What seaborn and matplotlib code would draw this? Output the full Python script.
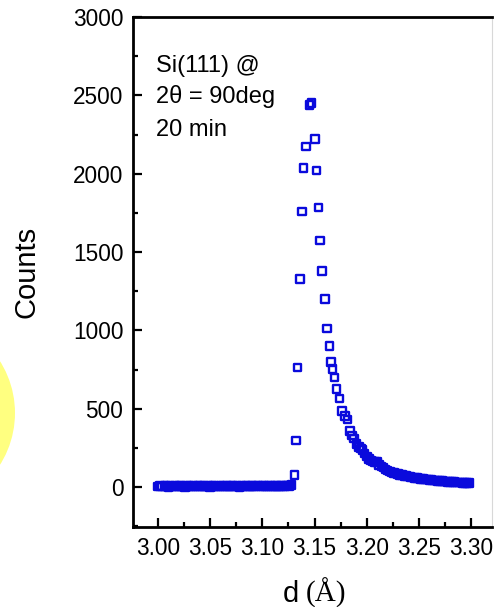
import matplotlib
matplotlib.use("Agg")
import matplotlib.pyplot as plt
from matplotlib.patches import Circle
from matplotlib.ticker import MultipleLocator
import seaborn as sns
import pandas as pd

# Flat background before the Si(111) reflection
d_base = [3.000, 3.002, 3.004, 3.006, 3.008, 3.010, 3.012, 3.014, 3.016, 3.018,
          3.020, 3.022, 3.024, 3.026, 3.028, 3.030, 3.032, 3.034, 3.036, 3.038,
          3.040, 3.042, 3.044, 3.046, 3.048, 3.050, 3.052, 3.054, 3.056, 3.058,
          3.060, 3.062, 3.064, 3.066, 3.068, 3.070, 3.072, 3.074, 3.076, 3.078,
          3.080, 3.082, 3.084, 3.086, 3.088, 3.090, 3.092, 3.094, 3.096, 3.098,
          3.100, 3.102, 3.104, 3.106, 3.108, 3.110, 3.112, 3.114, 3.116, 3.118,
          3.120, 3.122, 3.124, 3.126]
counts_base = [4, 6, 3, 5, 7, 2, 5, 4, 6, 3,
               5, 8, 4, 2, 6, 5, 3, 7, 4, 5,
               6, 3, 5, 4, 8, 2, 5, 6, 4, 3,
               7, 5, 4, 6, 3, 5, 8, 4, 5, 2,
               6, 4, 7, 5, 3, 6, 4, 5, 9, 3,
               5, 6, 4, 7, 5, 3, 6, 8, 4, 6,
               5, 7, 9, 6]

# Leading edge and top of the peak
d_rise = [3.1280, 3.1307, 3.1323, 3.1338, 3.1361, 3.1377, 3.1393, 3.1419, 3.1450, 3.1472]
counts_rise = [13, 77, 296, 762, 1328, 1758, 2035, 2173, 2439, 2450]

# Falling side and long tail
d_tail = [3.1505, 3.1520, 3.1536, 3.1553, 3.1571, 3.1600, 3.1620, 3.1642, 3.1658, 3.1673,
          3.1690, 3.1711, 3.1737, 3.1763, 3.1790, 3.1816, 3.1839, 3.1860, 3.1880, 3.1903,
          3.1925, 3.1945, 3.1960, 3.1980, 3.2000, 3.2020, 3.2040, 3.2060, 3.2080, 3.2100,
          3.2120, 3.2140, 3.2160, 3.2180, 3.2200, 3.2220, 3.2240, 3.2260, 3.2280, 3.2300,
          3.2320, 3.2340, 3.2360, 3.2380, 3.2400, 3.2420, 3.2440, 3.2460, 3.2480, 3.2500,
          3.2520, 3.2540, 3.2560, 3.2580, 3.2600, 3.2620, 3.2640, 3.2660, 3.2680, 3.2700,
          3.2720, 3.2740, 3.2760, 3.2780, 3.2800, 3.2820, 3.2840, 3.2860, 3.2880, 3.2900,
          3.2920, 3.2940, 3.2960, 3.2980]
counts_tail = [2220, 2020, 1784, 1573, 1379, 1199, 1013, 902, 800, 752,
               700, 624, 566, 487, 455, 432, 358, 330, 311, 273,
               255, 245, 236, 215, 195, 178, 170, 162, 160, 158,
               140, 132, 126, 112, 105, 98, 94, 90, 87, 82,
               78, 75, 72, 69, 67, 65, 61, 59, 56, 54,
               52, 51, 48, 47, 45, 44, 42, 41, 40, 38,
               37, 36, 35, 34, 33, 32, 31, 30, 29, 28,
               27, 26, 25, 24]

x_ticks = [3.00, 3.05, 3.10, 3.15, 3.20, 3.25, 3.30]
y_ticks = [0, 500, 1000, 1500, 2000, 2500, 3000]
note_lines = ["Si(111) @", "2\u03b8 = 90deg", "20 min"]

df = pd.DataFrame({
    "d": d_base + d_rise + d_tail,
    "counts": counts_base + counts_rise + counts_tail,
})

sns.set_theme(style="white")
plt.rcParams["font.family"] = ["Liberation Sans", "DejaVu Sans"]
plt.rcParams["text.color"] = "black"
plt.rcParams["axes.labelcolor"] = "black"

W, H = 494, 607
fig = plt.figure(figsize=(W / 100, H / 100), dpi=100)
fig.patch.set_facecolor("white")

# soft yellow disc peeking in from the left margin
fig.patches.append(Circle((-82, H - 413), 97, transform=None,
                          facecolor="#FFFF80", edgecolor="none", zorder=0))

ax = fig.add_axes([133 / W, 1 - 527 / H, (492 - 133) / W, (527 - 17) / H])
ax.set_facecolor("none")

blue = "#0A0ADC"
sns.scatterplot(data=df, x="d", y="counts", ax=ax, marker="s", s=30,
                facecolor="none", edgecolor=blue, linewidth=1.7, zorder=3)

ax.set_xlim(2.976, 3.32)
ax.set_ylim(-255, 3000)
ax.set_xticks(x_ticks)
ax.set_xticklabels([f"{v:.2f}" for v in x_ticks])
ax.set_yticks(y_ticks)
ax.set_yticklabels([str(v) for v in y_ticks])
ax.xaxis.set_minor_locator(MultipleLocator(0.025))
ax.yaxis.set_minor_locator(MultipleLocator(250))

ax.tick_params(which="both", direction="in", colors="black", width=1.6,
               labelsize=16.3, labelcolor="black", pad=7,
               bottom=True, left=True, top=False, right=False)
ax.tick_params(which="major", length=6.5)
ax.tick_params(which="minor", length=3.5)

for side in ["left", "bottom", "top"]:
    ax.spines[side].set_color("black")
    ax.spines[side].set_linewidth(2.0)
ax.spines["right"].set_color("#d8d8d8")
ax.spines["right"].set_linewidth(0.8)

ax.set_xlabel("")
ax.set_ylabel("")

fig.text(27 / W, 1 - 272 / H, "Counts", rotation=90, ha="center", va="center",
         fontsize=21, color="black")
fig.text(283 / W, 1 - 602 / H, "d", ha="left", va="baseline", fontsize=21,
         color="black")
fig.text(306 / W, 1 - 602 / H, "(\u00c5)", ha="left", va="baseline", fontsize=21,
         color="black", family=["Liberation Serif", "DejaVu Serif"])

for line, yb in zip(note_lines, [72, 103, 136]):
    ax.text(156 / W, 1 - yb / H, line, transform=fig.transFigure,
            ha="left", va="baseline", fontsize=17, color="black")

fig.savefig("out.png", dpi=100)
